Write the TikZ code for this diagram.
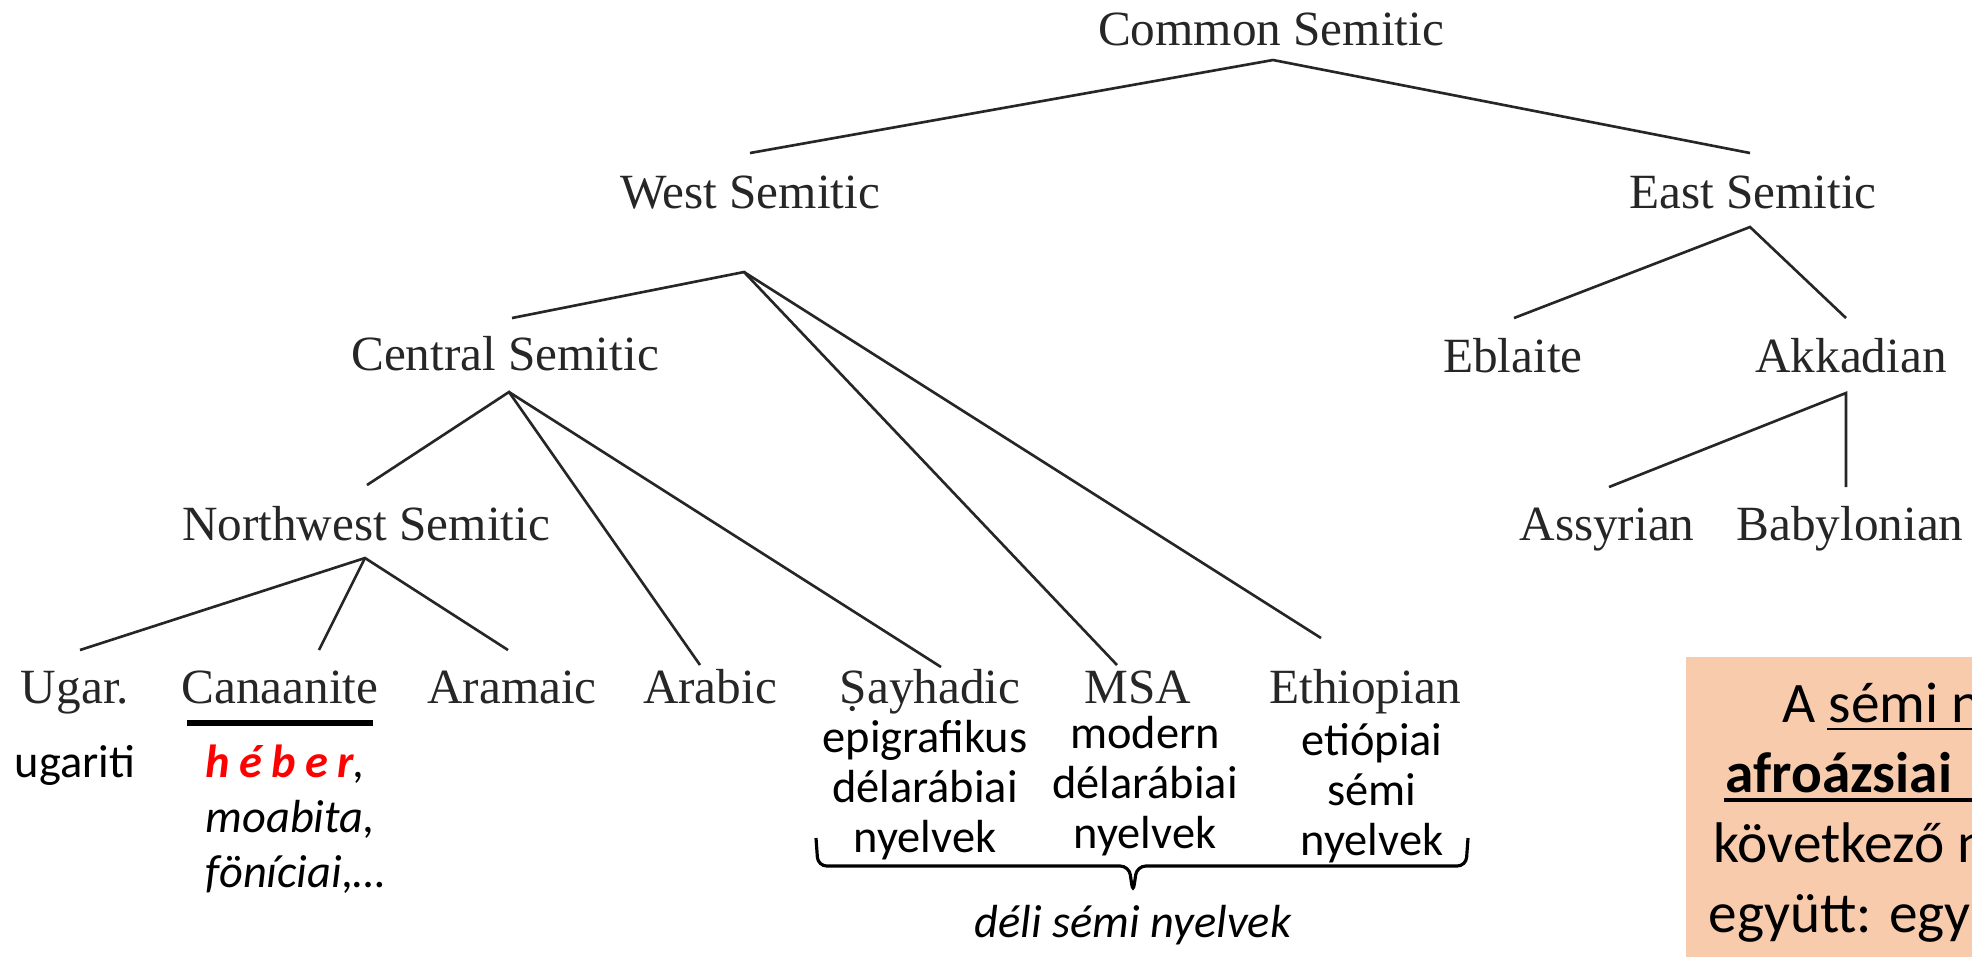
\documentclass[tikz,border=0pt]{standalone}
\usepackage{fontspec}
\setmainfont{Liberation Serif}
\newfontfamily\calibri{Carlito}
\usepackage{xcolor}
\usetikzlibrary{positioning,calc}
\definecolor{boxpeach}{HTML}{F8CBAD}
\definecolor{hebred}{HTML}{FF0000}

\begin{document}
\begin{tikzpicture}[x=0.01cm, y=-0.01cm,
  lang/.style={font=\fontsize{14}{16}\selectfont, anchor=base,
               inner sep=0pt, text=black!85},
  gloss/.style={font=\calibri\fontsize{13.2}{14.2}\selectfont,
                anchor=base, align=center, inner sep=0pt},
  branch/.style={line width=0.75pt, color=black!85},
  bracket/.style={line width=0.9pt, rounded corners=2.5pt},
  boxtxt/.style={font=\calibri\fontsize{16.3}{19.9}\selectfont,
                 anchor=base west, inner sep=0pt}
]
  \clip (0,0) rectangle (1972,956);

  % Tree, level 0 and 1
  \node[lang] (cs) at (1271,45) {Common Semitic};
  \node[lang] (ws) at (750,208) {West Semitic};
  \node[lang] (es) at (1753,208) {East Semitic};

  % Level 2
  \node[lang] (ctr) at (505,370) {Central Semitic};
  \node[lang] (ebl) at (1513,372) {Eblaite};
  \node[lang] (akk) at (1851,372) {Akkadian};

  % Level 3
  \node[lang] (nws) at (366,540) {Northwest Semitic};
  \node[lang] (assy) at (1607,540) {Assyrian};
  \node[lang] (baby) at (1850,540) {Babylonian};

  % Leaves
  \node[lang] (ugar) at (75,703) {Ugar.};
  \node[lang] (cana) at (280,703) {Canaanite};
  \node[lang] (aram) at (512,703) {Aramaic};
  \node[lang] (arab) at (710,703) {Arabic};
  \node[lang] (sayh) at (930,703) {Ṣayhadic};
  \node[lang] (msa) at (1138,703) {MSA};
  \node[lang] (eth) at (1365,703) {Ethiopian};

  % Branches
  \draw[branch] ($(ws.base)+(0,-55)$) -- ($(cs.base)+(2,15)$) -- ($(es.base)+(-3,-55)$);
  \draw[branch] ($(ctr.base)+(7,-52)$) -- ($(ws.base)+(-6,64)$) -- ($(msa.base)+(-21,-38)$);
  \draw[branch] ($(ws.base)+(-6,64)$) -- ($(eth.base)+(-44,-65)$);
  \draw[branch] ($(ebl.base)+(1,-54)$) -- ($(es.base)+(-3,19)$) -- ($(akk.base)+(-5,-54)$);
  \draw[branch] ($(nws.base)+(1,-55)$) -- ($(ctr.base)+(4,22)$) -- ($(arab.base)+(-10,-38)$);
  \draw[branch] ($(ctr.base)+(4,22)$) -- ($(sayh.base)+(11,-36)$);
  \draw[branch] ($(assy.base)+(2,-53)$) -- ($(akk.base)+(-5,21)$) -- ($(baby.base)+(-4,-53)$);
  \draw[branch] ($(ugar.base)+(5,-53)$) -- ($(nws.base)+(-1,18)$) -- ($(aram.base)+(-4,-53)$);
  \draw[branch] ($(nws.base)+(-1,18)$) -- ($(cana.base)+(39,-53)$);

  % Canaanite underline
  \draw[line width=1.7pt] ($(cana.base)+(-93,20)$) -- ($(cana.base)+(93,20)$);

  % Hungarian glosses (anchored at the last line)
  \node[gloss] (ugr-g) at (75,777) {ugariti};
  \node[gloss, anchor=base west, align=left,
        font=\calibri\itshape\fontsize{13.2}{15.6}\selectfont] (cana-g) at (205,887)
    {\textcolor{hebred}{\bfseries h\kern.2em é\kern.2em b\kern.2em e\kern.2em r},\\
     moabita,\\
     föníciai,…};
  \node[gloss] (sayh-g) at (925,852) {epigrafikus\\délarábiai\\nyelvek};
  \node[gloss] (msa-g) at (1145,848) {modern\\délarábiai\\nyelvek};
  \node[gloss] (eth-g) at (1372,855) {etiópiai\\sémi\\nyelvek};

  % Brace under the southern group
  \draw[bracket] (816,838) -- (818,866) -- (1129,866) -- (1133,893)
                 -- (1137,866) -- (1466,866) -- (1468,838);
  \node[gloss, font=\calibri\itshape\fontsize{13.2}{14.2}\selectfont] (deli) at (1133,937)
    {déli sémi nyelvek};

  % Note box, cut off at the edge
  \fill[boxpeach] (1686,657) rectangle (2000,1000);
  \node[boxtxt] (b1) at (1782,722) {A sémi n};
  \node[boxtxt] (b2) at (1725,792) {\bfseries afroázsiai};
  \node[boxtxt] (b3) at (1713,862) {következő n};
  \node[boxtxt] (b4) at (1708,932) {együtt: egy};
  \draw[line width=0.7pt] ($(b1.base west)+(45,7)$) -- ++(300,0);
  \draw[line width=1pt] ($(b2.base west)+(-1,8)$) -- ++(300,0);
\end{tikzpicture}
\end{document}
